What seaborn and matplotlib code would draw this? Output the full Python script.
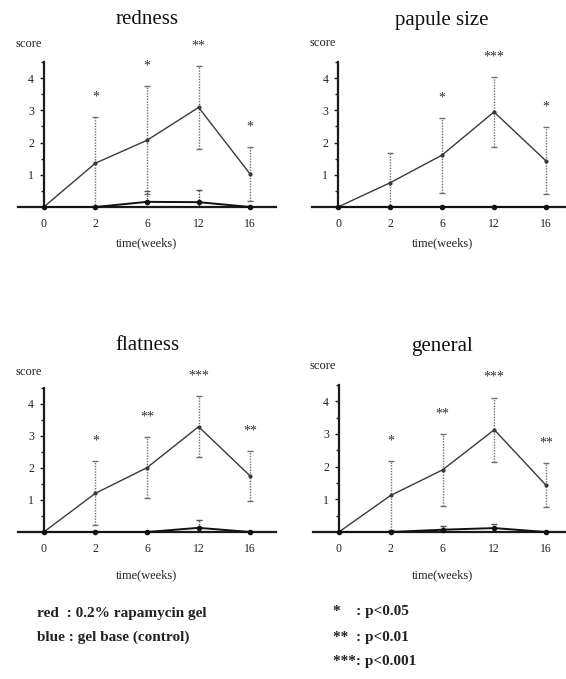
import numpy as np
import pandas as pd
import matplotlib
matplotlib.use("Agg")
import matplotlib.pyplot as plt
import seaborn as sns
from matplotlib.ticker import MultipleLocator

sns.set_theme(style="white")
plt.rcParams['font.family'] = ['Liberation Serif', 'DejaVu Serif']

# ---------------- data ----------------
weeks = ["0", "2", "6", "12", "16"]

redness_treat_mean = [0, 1.36, 2.07, 3.09, 1.02]
redness_treat_sd = [0, 1.44, 1.68, 1.28, 0.84]
redness_ctrl_mean = [0, 0, 0.16, 0.15, 0]
redness_ctrl_sd = [0, 0, 0.34, 0.38, 0]
redness_stars = ["", "*", "*", "**", "*"]

papule_treat_mean = [0, 0.75, 1.61, 2.95, 1.43]
papule_treat_sd = [0, 0.93, 1.16, 1.09, 1.04]
papule_ctrl_mean = [0, 0, 0, 0, 0]
papule_ctrl_sd = [0, 0, 0, 0, 0]
papule_stars = ["", "", "*", "***", "*"]

flatness_treat_mean = [0, 1.21, 2.01, 3.29, 1.75]
flatness_treat_sd = [0, 1.0, 0.95, 0.95, 0.77]
flatness_ctrl_mean = [0, 0, 0, 0.13, 0]
flatness_ctrl_sd = [0, 0, 0, 0.24, 0]
flatness_stars = ["", "*", "**", "***", "**"]

general_treat_mean = [0, 1.12, 1.90, 3.13, 1.43]
general_treat_sd = [0, 1.05, 1.09, 0.98, 0.67]
general_ctrl_mean = [0, 0, 0.07, 0.12, 0]
general_ctrl_sd = [0, 0, 0.10, 0.14, 0]
general_stars = ["", "*", "**", "***", "**"]

titles = ["redness", "papule size", "flatness", "general"]
legend_left = ["red  : 0.2% rapamycin gel", "blue : gel base (control)"]
legend_right = ["*    : p<0.05", "**  : p<0.01", "***: p<0.001"]

panels = [
    (redness_treat_mean, redness_treat_sd, redness_ctrl_mean, redness_ctrl_sd, redness_stars),
    (papule_treat_mean, papule_treat_sd, papule_ctrl_mean, papule_ctrl_sd, papule_stars),
    (flatness_treat_mean, flatness_treat_sd, flatness_ctrl_mean, flatness_ctrl_sd, flatness_stars),
    (general_treat_mean, general_treat_sd, general_ctrl_mean, general_ctrl_sd, general_stars),
]

# ---------------- layout (pixels) ----------------
W, H = 566, 679
fig = plt.figure(figsize=(W / 100, H / 100), dpi=100)

# x0, x1, ytop, ybottom of each axes in pixels
rects = [(18, 276, 62, 207), (312, 572, 62, 207), (18, 276, 388, 532), (313, 572, 385, 532)]
title_y = [20, 20, 346, 346]
score_pos = [(15, 44), (310, 43), (15, 372), (310, 366)]
xlabel_y = [243, 243, 575, 575]

def px(x, y):
    return x / W, 1 - y / H

x = np.arange(len(weeks))
for (tm, ts, cm, cs, stars), (x0, x1, yt, yb), ty, sp, xly, title in zip(
        panels, rects, title_y, score_pos, xlabel_y, titles):
    ax = fig.add_axes([x0 / W, 1 - yb / H, (x1 - x0) / W, (yb - yt) / H])
    tm = np.array(tm, float); ts = np.array(ts, float)
    cm = np.array(cm, float); cs = np.array(cs, float)

    # error bars (dotted)
    for m, s, col in [(tm, ts, "#707070"), (cm, cs, "#505050")]:
        mask = s > 0
        if mask.any():
            eb = ax.errorbar(x[mask], m[mask], yerr=s[mask], fmt="none", ecolor=col,
                             elinewidth=1.0, capsize=2.5, capthick=1.0, zorder=2)
            eb[2][0].set_linestyle((0, (1, 1)))

    df_t = pd.DataFrame({"x": x, "y": tm})
    df_c = pd.DataFrame({"x": x, "y": cm})
    sns.lineplot(data=df_t, x="x", y="y", ax=ax, color="#3a3a3a", lw=1.0,
                 marker="o", markersize=3, markeredgewidth=0, clip_on=False, zorder=3)
    sns.lineplot(data=df_c, x="x", y="y", ax=ax, color="#111111", lw=1.4,
                 marker="o", markersize=4, markeredgewidth=0, clip_on=False, zorder=4)

    for xi, m, s, st in zip(x, tm, ts, stars):
        if st:
            ax.text(xi, m + s + 0.62, st, ha="center", va="center", fontsize=10,
                    color="#333333")

    ax.set_xlim(-0.5, 4.5)
    ax.set_ylim(0, 4.5)
    ax.set_xticks(x)
    ax.set_xticklabels(weeks)
    ax.set_yticks([1, 2, 3, 4])
    ax.yaxis.set_minor_locator(MultipleLocator(0.5))
    ax.tick_params(axis="x", length=0, pad=8, labelsize=8.5, colors="#222222")
    ax.tick_params(axis="y", which="major", direction="out", length=3, width=1,
                   pad=4, labelsize=8.5, left=True, colors="#222222")
    ax.tick_params(axis="y", which="minor", direction="out", length=2, width=1, left=True)
    ax.set_xlabel(""); ax.set_ylabel("")
    ax.spines["left"].set_position(("data", 0))
    ax.spines["top"].set_visible(False)
    ax.spines["right"].set_visible(False)
    for side in ["left", "bottom"]:
        ax.spines[side].set_color("#1a1a1a")
        ax.spines[side].set_linewidth(1.6)
    ax.set_facecolor("none")
    ax.grid(False)

    cx = x0 + (x1 - x0) * 0.5
    fig.text(*px(cx, ty), title, ha="center", va="center", fontsize=15, color="#111111")
    fig.text(*px(*sp), "score", ha="left", va="center", fontsize=9, color="#222222")
    fig.text(*px(cx, xly), "time(weeks)", ha="center", va="center", fontsize=9,
             color="#222222")

for i, t in enumerate(legend_left):
    fig.text(*px(37, 613 + 24.5 * i), t, ha="left", va="center", fontsize=11,
             fontweight="bold", color="#222222")
for i, t in enumerate(legend_right):
    fig.text(*px(333, 612 + 25 * i), t, ha="left", va="center", fontsize=11,
             fontweight="bold", color="#222222")

fig.savefig("out.png", dpi=100, facecolor="white")
